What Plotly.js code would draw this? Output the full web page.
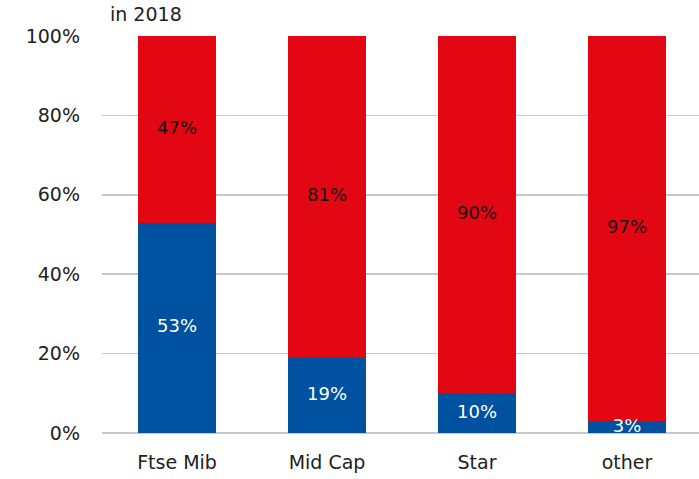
<!DOCTYPE html>
<html>
<head>
<meta charset="utf-8">
<script src="https://cdn.plot.ly/plotly-3.0.1.min.js"></script>
<style>html,body{margin:0;padding:0;background:#fff;}#chart{width:699px;height:479px;}</style>
</head>
<body>
<div id="chart"></div>
<script>
const categories = ["Ftse Mib", "Mid Cap", "Star", "other"];
const blueValues = [53, 19, 10, 3];
const redValues = [47, 81, 90, 97];
const yTicks = [0, 20, 40, 60, 80, 100];
const yTickLabels = ["0%", "20%", "40%", "60%", "80%", "100%"];

const FONT = "DejaVu Sans, sans-serif";

const traces = [
  {type: "bar", x: categories, y: blueValues, marker: {color: "#0051a0"}, hoverinfo: "none"},
  {type: "bar", x: categories, y: redValues, marker: {color: "#e30613"}, hoverinfo: "none"},
  {type: "scatter", mode: "text", x: categories, y: blueValues.map(v => v / 2),
   text: blueValues.map(v => v + "%"), textposition: "middle center",
   textfont: {color: "#ffffff", size: 18, family: FONT}, cliponaxis: true, hoverinfo: "none"},
  {type: "scatter", mode: "text", x: categories, y: redValues.map((v, i) => blueValues[i] + v / 2),
   text: redValues.map(v => v + "%"), textposition: "middle center",
   textfont: {color: "#111111", size: 18, family: FONT}, cliponaxis: true, hoverinfo: "none"}
];

const layout = {
  width: 699, height: 479,
  margin: {l: 102, r: 0, t: 36, b: 46, pad: 0},
  barmode: "stack",
  bargap: 0.48,
  showlegend: false,
  paper_bgcolor: "#ffffff", plot_bgcolor: "#ffffff",
  font: {family: FONT, color: "#222222", size: 19},
  title: {text: "in 2018", x: 110 / 699, xanchor: "left", y: 1 - 14 / 479, yanchor: "middle",
          font: {size: 19, color: "#222222", family: FONT}},
  xaxis: {range: [-0.5, 3.48], showgrid: false, zeroline: false, showline: false, ticks: "",
          ticklabelstandoff: 16,
          tickfont: {size: 19, color: "#222222", family: FONT}, fixedrange: true},
  yaxis: {range: [0, 100], tickvals: yTicks, ticktext: yTickLabels, showgrid: true,
          gridcolor: "#c8c8c8", gridwidth: 1.5, zeroline: true, zerolinecolor: "#c8c8c8", zerolinewidth: 1.5,
          showline: false, ticks: "", ticklabelstandoff: 21,
          tickfont: {size: 19, color: "#222222", family: FONT}, fixedrange: true}
};

Plotly.newPlot("chart", traces, layout, {displayModeBar: false, staticPlot: true});
</script>
</body>
</html>
